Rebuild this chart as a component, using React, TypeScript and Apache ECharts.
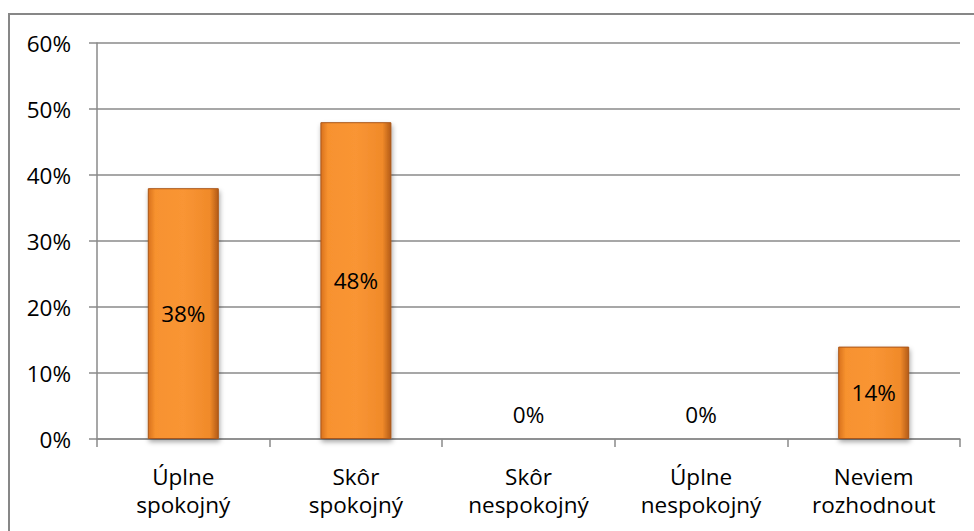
import React, { useEffect, useRef } from "react";
import * as echarts from "echarts";

// Survey answers and their shares (in percent)
const categories = [
  "Úplne\nspokojný",
  "Skôr\nspokojný",
  "Skôr\nnespokojný",
  "Úplne\nnespokojný",
  "Neviem\nrozhodnout",
];
const shares = [38, 48, 0, 0, 14];
const yTicks = { min: 0, max: 60, step: 10 };

const FONT = "'Open Sans', sans-serif";
const FONT_SIZE = 22.5;
const AXIS_GRAY = "#8a8a8a";

export default function App() {
  const ref = useRef<HTMLDivElement>(null);

  useEffect(() => {
    if (!ref.current) return;
    document.body.style.overflow = "hidden";
    const chart = echarts.init(ref.current, null, { renderer: "svg" });

    const barFill = new echarts.graphic.LinearGradient(0, 0, 1, 0, [
      { offset: 0, color: "#d9721d" },
      { offset: 0.1, color: "#f7922f" },
      { offset: 0.5, color: "#f99534" },
      { offset: 0.88, color: "#f08a2a" },
      { offset: 1, color: "#b35b17" },
    ]);

    chart.setOption({
      animation: false,
      graphic: [
        {
          type: "rect",
          shape: { x: 9, y: 14, width: 1100, height: 700 },
          style: { fill: "none", stroke: "#878787", lineWidth: 2 },
          silent: true,
        },
      ],
      grid: { left: 97, top: 43, width: 863, height: 396 },
      xAxis: {
        type: "category",
        data: categories,
        axisLine: { lineStyle: { color: AXIS_GRAY, width: 1.5 } },
        axisTick: {
          show: true,
          alignWithLabel: false,
          length: 8,
          lineStyle: { color: AXIS_GRAY, width: 1.5 },
        },
        axisLabel: {
          color: "#000",
          fontFamily: FONT,
          fontSize: FONT_SIZE,
          lineHeight: 28,
          margin: 23,
          interval: 0,
        },
      },
      yAxis: {
        type: "value",
        min: yTicks.min,
        max: yTicks.max,
        interval: yTicks.step,
        axisLine: { show: true, lineStyle: { color: AXIS_GRAY, width: 1.5 } },
        axisTick: {
          show: true,
          length: 8,
          lineStyle: { color: AXIS_GRAY, width: 1.5 },
        },
        splitLine: { lineStyle: { color: AXIS_GRAY, width: 1.5 } },
        axisLabel: {
          color: "#000",
          fontFamily: FONT,
          fontSize: FONT_SIZE,
          margin: 26,
          formatter: "{value}%",
        },
      },
      series: [
        {
          type: "bar",
          barWidth: 71,
          data: shares.map((v) => ({
            value: v,
            label:
              v === 0
                ? { position: "top", distance: 13 }
                : { position: "inside" },
          })),
          itemStyle: {
            color: barFill,
            borderColor: "#a9561a",
            borderWidth: 1,
            shadowColor: "rgba(0,0,0,0.35)",
            shadowBlur: 5,
            shadowOffsetX: 1,
            shadowOffsetY: 3,
          },
          label: {
            show: true,
            color: "#000",
            fontFamily: FONT,
            fontSize: FONT_SIZE,
            formatter: "{c}%",
          },
        },
      ],
    });

    return () => chart.dispose();
  }, []);

  return (
    <div
      ref={ref}
      style={{
        position: "fixed",
        left: 0,
        top: 0,
        width: 974,
        height: 531,
        background: "#fff",
      }}
    />
  );
}
